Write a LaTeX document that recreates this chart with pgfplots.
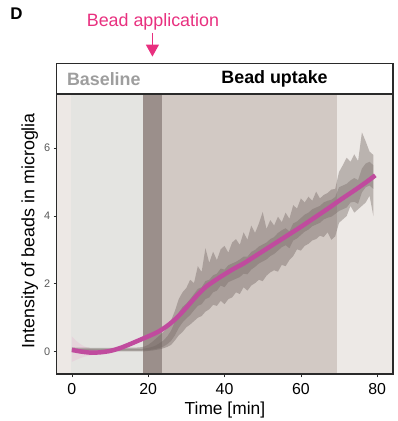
\documentclass[border=0pt]{standalone}
\usepackage{pgfplots}
\pgfplotsset{compat=1.18}
\usepackage{pgfplotstable}
\usepgfplotslibrary{fillbetween}
\usetikzlibrary{arrows.meta}
\usepackage{fontspec}
\setmainfont{Liberation Sans}
\definecolor{bgleft}{HTML}{EDE8E5}
\definecolor{bgbase}{HTML}{E4E4E1}
\definecolor{bgdark}{HTML}{9B8F8B}
\definecolor{bgmid}{HTML}{D2C9C4}
\definecolor{bgright}{HTML}{EDE9E6}
\definecolor{bandc}{HTML}{6E625E}
\definecolor{fitc}{HTML}{C04B9E}
\definecolor{fitci}{HTML}{E8BCD2}
\definecolor{pinktext}{HTML}{E8307F}
\definecolor{axisdark}{HTML}{2A2A2A}
\definecolor{basegray}{HTML}{9E9E9E}

\pgfplotstableread{
x oL iL iU oU
0 0.00 0.03 0.09 0.13
1 0.00 0.03 0.09 0.12
2 0.01 0.03 0.08 0.12
3 0.00 0.03 0.08 0.12
4 0.01 0.03 0.08 0.12
5 0.01 0.03 0.08 0.11
6 0.01 0.03 0.08 0.11
7 0.01 0.03 0.08 0.11
8 0.01 0.03 0.08 0.11
9 0.01 0.03 0.08 0.11
10 0.01 0.03 0.08 0.11
11 0.01 0.03 0.08 0.11
12 0.01 0.03 0.08 0.11
13 0.01 0.03 0.08 0.11
14 0.01 0.03 0.08 0.11
15 0.01 0.03 0.08 0.12
16 0.01 0.03 0.08 0.12
17 0.01 0.03 0.08 0.12
18 0.01 0.03 0.08 0.13
19 0.01 0.04 0.09 0.15
20 0.02 0.04 0.11 0.20
21 0.03 0.06 0.14 0.28
22 0.05 0.08 0.18 0.38
23 0.07 0.11 0.25 0.48
24 0.10 0.15 0.33 0.58
25 0.14 0.22 0.45 0.70
26 0.20 0.32 0.62 0.92
27 0.33 0.48 0.88 1.20
28 0.48 0.70 1.15 1.55
29 0.58 0.86 1.32 1.75
30 0.72 0.98 1.42 1.88
31 0.80 1.08 1.55 2.12
32 0.90 1.22 1.70 2.02
33 1.00 1.35 1.85 2.52
34 1.05 1.40 1.90 2.35
35 1.18 1.55 2.08 3.05
36 1.25 1.60 2.12 2.62
37 1.38 1.75 2.25 2.95
38 1.35 1.80 2.30 2.70
39 1.50 1.95 2.45 3.02
40 1.40 1.90 2.42 3.12
41 1.55 2.05 2.55 2.92
42 1.60 2.10 2.60 3.22
43 1.75 2.15 2.65 3.32
44 1.70 2.20 2.72 3.15
45 1.90 2.30 2.80 3.52
46 1.80 2.28 2.80 3.30
47 1.95 2.42 2.94 3.72
48 2.02 2.50 3.00 3.50
49 2.12 2.60 3.10 3.78
50 2.08 2.66 3.16 4.12
51 2.24 2.72 3.22 3.62
52 2.34 2.82 3.32 3.88
53 2.40 2.88 3.38 3.72
54 2.36 2.98 3.50 3.98
55 2.56 3.08 3.58 3.82
56 2.52 3.14 3.64 4.10
57 2.70 3.05 3.55 3.92
58 2.82 3.28 3.78 4.32
59 3.02 3.34 3.84 4.22
60 2.98 3.44 3.94 4.52
61 3.12 3.54 4.04 4.40
62 3.18 3.60 4.10 4.57
63 3.28 3.70 4.20 4.45
64 3.32 3.75 4.25 4.72
65 3.42 3.80 4.30 4.52
66 3.38 3.90 4.40 4.62
67 3.52 3.95 4.45 4.68
68 3.30 3.98 4.48 4.78
69 3.40 4.06 4.56 4.80
70 3.80 4.15 4.85 5.30
71 3.90 4.20 4.90 5.50
72 4.00 4.25 4.95 5.72
73 4.30 4.40 5.05 5.60
74 4.10 4.42 5.12 5.82
75 4.20 4.36 5.06 5.62
76 4.30 4.70 5.40 6.47
77 4.40 4.85 5.55 6.20
78 4.60 4.90 5.60 5.90
79 4.00 4.80 5.50 5.80
}\tabBands

\pgfplotstableread{
x lo hi
0 -0.30 0.45
1 -0.25 0.33
2 -0.20 0.24
3 -0.16 0.17
4 -0.13 0.12
5 -0.11 0.07
6 -0.09 0.05
7 -0.07 0.04
8 -0.05 0.05
9 -0.03 0.06
10 -0.01 0.07
11 0.03 0.10
12 0.07 0.13
}\tabCI

\pgfplotstableread{
x y
0 0.05
2.5 0.00
5 -0.03
7.5 -0.02
10 0.02
12.5 0.10
15 0.21
17.5 0.33
20 0.45
22.5 0.58
25 0.76
27.5 1.00
30 1.30
32.5 1.62
35 1.90
37.5 2.10
40 2.28
42.5 2.45
45 2.60
47.5 2.78
50 2.96
52.5 3.14
55 3.32
57.5 3.50
60 3.68
62.5 3.87
65 4.06
67.5 4.25
70 4.45
72.5 4.64
75 4.83
77.5 5.03
79.5 5.20
}\tabFit

\begin{document}
\begin{tikzpicture}
\begin{axis}[
  at={(57pt,44pt)}, anchor=south west,
  width=339pt, height=282pt, scale only axis,
  xmin=-4, xmax=84.2, ymin=-0.67, ymax=7.59,
  set layers,
  axis line style={line width=1.8pt, color=axisdark},
  xtick={0,20,40,60,80}, ytick={0,2,4,6},
  xtick pos=bottom, ytick pos=left,
  tick align=outside, major tick length=3pt,
  tick style={line width=0.7pt, color=axisdark},
  /pgf/number format/assume math mode=true,
  xticklabel style={font=\fontsize{16}{16}\selectfont, color=black, yshift=-3pt},
  yticklabel style={font=\fontsize{11}{11}\selectfont, color=black!65},
]
\begin{pgfonlayer}{axis background}
\fill[bgleft] (axis cs:-4,-0.67) rectangle (axis cs:84.2,7.59);
\fill[bgbase] (axis cs:-0.3,-0.67) rectangle (axis cs:18.7,7.59);
\fill[bgdark] (axis cs:18.7,-0.67) rectangle (axis cs:23.7,7.59);
\fill[bgmid] (axis cs:23.7,-0.67) rectangle (axis cs:69.6,7.59);
\fill[bgright] (axis cs:69.6,-0.67) rectangle (axis cs:84.2,7.59);
\end{pgfonlayer}
% fit confidence band
\addplot[draw=none, name path=cL] table[x=x, y=lo] {\tabCI};
\addplot[draw=none, name path=cU] table[x=x, y=hi] {\tabCI};
\addplot[fill=fitci, fill opacity=0.4, draw=none] fill between[of=cU and cL];
% data bands
\addplot[draw=none, name path=oL] table[x=x, y=oL] {\tabBands};
\addplot[draw=none, name path=oU] table[x=x, y=oU] {\tabBands};
\addplot[draw=none, name path=iL] table[x=x, y=iL] {\tabBands};
\addplot[draw=none, name path=iU] table[x=x, y=iU] {\tabBands};
\addplot[fill=bandc, fill opacity=0.4, draw=none] fill between[of=oU and oL];
\addplot[fill=bandc, fill opacity=0.35, draw=none] fill between[of=iU and iL];
% fit
\addplot[color=fitc, line width=4.5pt, smooth, no marks] table[x=x, y=y] {\tabFit};
\end{axis}
% header box
\draw[line width=1.8pt, color=axisdark, fill=white] (57pt,326pt) rectangle (395.5pt,357pt);
\node[anchor=west, font=\bfseries\fontsize{18}{18}\selectfont, color=basegray] at (64pt,341.5pt) {Baseline};
\node[font=\bfseries\fontsize{18}{18}\selectfont, color=black] at (276.5pt,341.5pt) {Bead uptake};
% annotation
\node[font=\fontsize{18}{18}\selectfont, color=pinktext] at (154pt,399pt) {Bead application};
\draw[-{Triangle[width=13pt,length=12pt]}, line width=1.2pt, color=pinktext] (153.5pt,388pt) -- (153.5pt,364pt);
\node[font=\bfseries\fontsize{17}{17}\selectfont] at (16.5pt,407pt) {D};
% axis labels
\node[rotate=90, font=\fontsize{18}{18}\selectfont] at (30pt,188.5pt) {Intensity of beads in microglia};
\node[font=\fontsize{17.5}{18}\selectfont] at (226.5pt,8.5pt) {Time [min]};
\path (0pt,0pt) rectangle (400pt,421pt);
\end{tikzpicture}
\end{document}
